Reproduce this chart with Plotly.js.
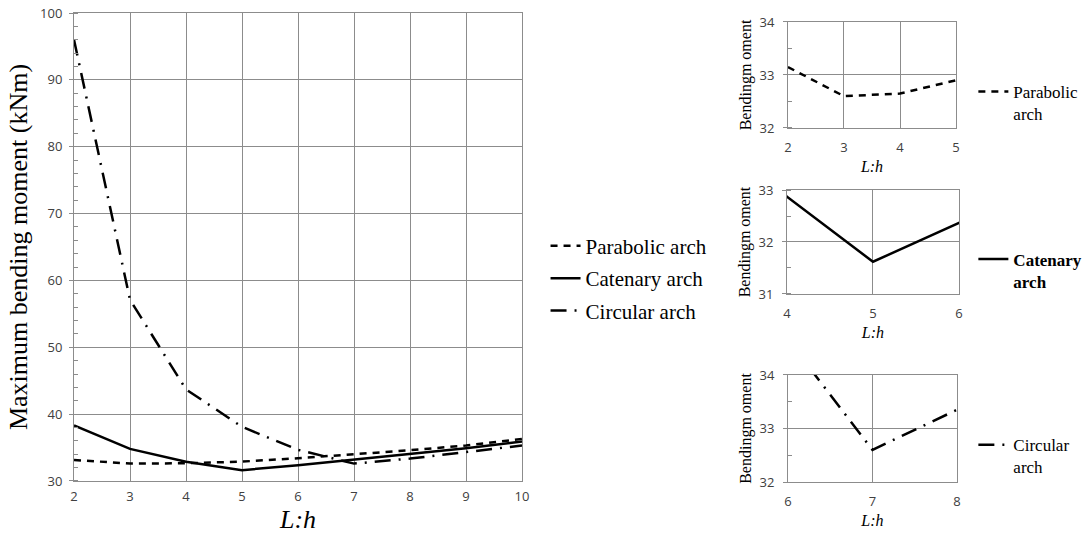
<!DOCTYPE html>
<html><head><meta charset="utf-8">
<script src="https://cdn.plot.ly/plotly-3.0.1.min.js"></script>
<style>body{margin:0;background:#fff}#c{width:1090px;height:540px}</style>
</head><body><div id="c"></div>
<script>
const ratio = [2,3,4,5,6,7,8,9,10];
const parabolic = [33.15,32.6,32.65,32.9,33.4,33.95,34.6,35.3,36.3];
const catenary  = [38.3,34.8,32.87,31.62,32.37,33.2,34.0,34.9,35.9];
const circular  = [96.0,57.1,43.7,38.1,34.66,32.6,33.35,34.3,35.3];
const names = ['Parabolic arch','Catenary arch','Circular arch'];
const insetNames = ['Parabolic<br>arch','<b>Catenary<br>arch</b>','Circular<br>arch'];
const insetRanges = [[2,5],[4,6],[6,8]];
const xTitle = 'L:h';
const yTitle = 'Maximum bending moment (kNm)';
const insetYTitle = 'Bendingm oment';

const series=[parabolic,catenary,circular];
const dashes=['7px,6px','solid','16px,8px,2px,8px'];
const serif='"Liberation Serif","Times New Roman",serif';
const sans='"Open Sans","Noto Sans",sans-serif';
const traces=[];
series.forEach((s,i)=>{
  traces.push({x:ratio,y:s,type:'scatter',mode:'lines',name:names[i],legendgroup:'g'+i,
    line:{color:'#000',width:2.5,dash:dashes[i]},xaxis:'x',yaxis:'y',legend:'legend'});
  const xs=[],ys=[];
  ratio.forEach((r,k)=>{if(r>=insetRanges[i][0]-1&&r<=insetRanges[i][1]+1){xs.push(r);ys.push(s[k]);}});
  traces.push({x:xs,y:ys,type:'scatter',mode:'lines',name:insetNames[i],
    line:{color:'#000',width:2.5,dash:dashes[i]},xaxis:'x'+(i+2),yaxis:'y'+(i+2),legend:'legend'+(i+2)});
});
const grid='#8c8c8c';
function xax(dom,range,anchor,size,tsize,lstand,tstand){
  return {domain:dom,range:range,anchor:anchor,dtick:1,showgrid:true,gridcolor:grid,gridwidth:1,
    showline:true,linecolor:grid,mirror:true,zeroline:false,ticks:'',ticklabelstandoff:lstand,
    tickfont:{family:sans,size:tsize,color:'#404040'},
    title:{text:'<i>'+xTitle+'</i>',font:{family:serif,size:size,color:'#000'},standoff:tstand}};
}
function yax(dom,range,anchor,dtick,size,tsize,title,minor,lstand,tstand){
  return {domain:dom,range:range,anchor:anchor,dtick:dtick,showgrid:true,gridcolor:grid,gridwidth:1,
    showline:true,linecolor:grid,mirror:true,zeroline:false,ticks:'outside',ticklen:4,tickcolor:grid,
    ticklabelstandoff:lstand,
    minor:{dtick:minor,ticks:'inside',ticklen:4,tickcolor:grid,showgrid:false},
    tickfont:{family:sans,size:tsize,color:'#404040'},
    title:{text:title,font:{family:serif,size:size,color:'#000'},standoff:tstand}};
}
const legFont={family:serif,size:17,color:'#000'};
const layout={
  width:1090,height:540,margin:{l:0,r:0,t:0,b:0},paper_bgcolor:'#fff',plot_bgcolor:'#fff',
  showlegend:true,
  xaxis:xax([0.0679,0.4789],[2,10],'y',26,13,3,4),
  yaxis:yax([0.1093,0.9759],[30,100],'x',10,26,13,yTitle,2,4,4),
  xaxis2:xax([0.7229,0.8771],[2,5],'y2',16,13,7,6),
  yaxis2:yax([0.763,0.9593],[32,34],'x2',1,16,13,insetYTitle,0.5,6,3),
  xaxis3:xax([0.7220,0.8798],[4,6],'y3',16,13,7,6),
  yaxis3:yax([0.4556,0.6481],[31,33],'x3',1,16,13,insetYTitle,0.5,6,3),
  xaxis4:xax([0.7229,0.878],[6,8],'y4',16,13,7,6),
  yaxis4:yax([0.1074,0.3056],[32,34],'x4',1,16,13,insetYTitle,0.5,6,3),
  legend:{x:0.5005,y:0.582,xanchor:'left',yanchor:'top',font:{family:serif,size:21,color:'#000'},tracegroupgap:2,bgcolor:'rgba(0,0,0,0)'},
  legend2:{x:0.893,y:0.863,xanchor:'left',yanchor:'top',valign:'top',font:legFont,bgcolor:'rgba(0,0,0,0)'},
  legend3:{x:0.893,y:0.553,xanchor:'left',yanchor:'top',valign:'top',font:legFont,bgcolor:'rgba(0,0,0,0)'},
  legend4:{x:0.893,y:0.209,xanchor:'left',yanchor:'top',valign:'top',font:legFont,bgcolor:'rgba(0,0,0,0)'}
};
Plotly.newPlot('c',traces,layout,{displayModeBar:false,staticPlot:true});
</script></body></html>
